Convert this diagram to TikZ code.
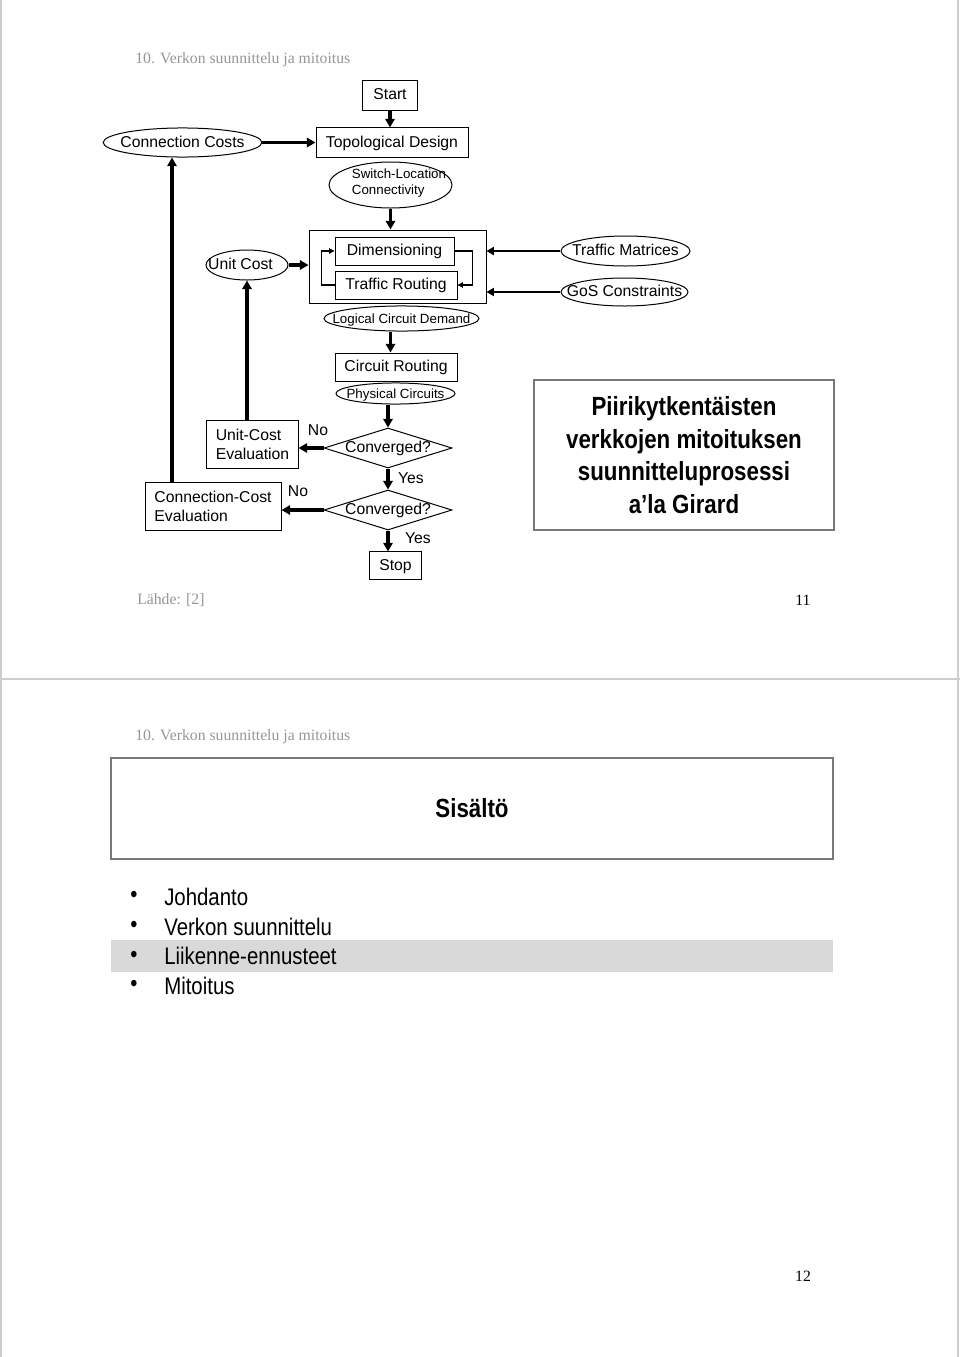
\documentclass[tikz,border=0pt]{standalone}
\usepackage{fontspec}
\setmainfont{Liberation Sans}
\newfontfamily\headfont{Liberation Serif}
\newfontfamily\narrowfont[FakeStretch=0.85]{Liberation Sans}
\usetikzlibrary{shapes.geometric, arrows.meta, positioning}
\definecolor{pagegray}{RGB}{205,205,205}
\definecolor{headgray}{RGB}{150,150,150}
\definecolor{framegray}{RGB}{120,120,120}
\definecolor{bandgray}{RGB}{217,217,217}

\begin{document}
\begin{tikzpicture}[
    x=0.75pt, y=-0.75pt,
    every node/.style={font=\fontsize{11.8}{14.25}\selectfont},
    box/.style={rectangle, draw=black, line width=0.75pt, inner sep=0pt, text height=0.9em, text depth=0.18em},
    twoline/.style={align=left, text height=, text depth=},
    oval/.style={ellipse, draw=black, line width=0.75pt, inner sep=-40pt, text height=0.9em, text depth=0.18em},
    decision/.style={diamond, draw=black, line width=0.75pt, inner sep=-40pt, text height=0.9em, text depth=0.18em},
    small/.style={font=\fontsize{10}{12}\selectfont},
    titlebox/.style={rectangle, draw=framegray, line width=1.5pt, inner sep=0pt, align=center},
    header/.style={font=\headfont\fontsize{11.8}{14}\selectfont, text=headgray, inner sep=0pt},
    bullet/.style={font=\narrowfont\fontsize{18}{22}\selectfont, inner sep=0pt, anchor=west},
    arrow/.style={line width=2.3pt, -{Triangle[length=6.5pt, width=7pt]}},
    sidearrow/.style={line width=1.6pt, -{Triangle[length=5.5pt, width=6pt]}},
    looparrow/.style={line width=0.8pt, -{Triangle[length=4pt, width=4pt]}}
]
\useasboundingbox (0,0) rectangle (960,1357);

% page frames
\draw[pagegray, line width=1pt] (1,0) -- (1,678) (958,0) -- (958,678);
\draw[pagegray, line width=1pt] (1,680) -- (1,1357) (958,680) -- (958,1357);
\draw[pagegray, line width=1.5pt] (0,679) -- (960,679);

%% page 11
\node[header, anchor=west] (head1) at (135,60) {10. Verkon suunnittelu ja mitoitus};

\node[box, minimum width=41.3pt, minimum height=22.5pt] (start) at (390,95) {Start};
\node[box, minimum width=114pt, minimum height=21.8pt] (topo) at (392,142.5) {Topological Design};
\node[oval, minimum width=119pt, minimum height=21.8pt] (conncost) at (182.5,142.5) {Connection Costs};

\node[oval, minimum width=92.3pt, minimum height=34.5pt] (swloc) at (390.5,185) {};
\node[small, align=left, inner sep=0pt] (swloctext) at (399,183) {Switch-Location\\Connectivity};

\node[box, minimum width=132.75pt, minimum height=54.75pt] (dimblock) at (397.5,266.5) {};
\node[box, minimum width=89.25pt, minimum height=21pt] (dim) at (394.5,251) {Dimensioning};
\node[box, minimum width=91.5pt, minimum height=21pt] (troute) at (396,285) {Traffic Routing};

\node[oval, minimum width=61.5pt, minimum height=22.5pt] (unitcost) at (247,265) {};
\node[inner sep=0pt, text height=0.9em, text depth=0.18em] (unitcosttext) at (240.5,265) {Unit Cost};

\node[oval, minimum width=96.8pt, minimum height=22.5pt] (trafmat) at (625.5,251) {Traffic Matrices};
\node[oval, minimum width=95.3pt, minimum height=21pt] (gos) at (624.5,292) {GoS Constraints};

\node[oval, small, minimum width=116.3pt, minimum height=18.8pt] (logical) at (401.5,318.5) {Logical Circuit Demand};
\node[box, minimum width=91.5pt, minimum height=21pt] (croute) at (396,367) {Circuit Routing};
\node[oval, small, minimum width=89.3pt, minimum height=15.8pt] (physical) at (395.5,393.5) {Physical Circuits};

\node[decision, minimum width=96pt, minimum height=30pt] (conv1) at (388,448) {Converged?};
\node[decision, minimum width=96pt, minimum height=30pt] (conv2) at (388,510) {Converged?};
\node[box, minimum width=38.3pt, minimum height=20.3pt] (stop) at (395.5,565.5) {Stop};

\node[box, twoline, minimum width=68.3pt, minimum height=35.3pt] (unitev) at (252.5,444.5) {Unit-Cost\\Evaluation};
\node[box, twoline, minimum width=102pt, minimum height=35.3pt] (connev) at (213,506.5) {Connection-Cost\\Evaluation};

\node (no1) at (318,430) {No};
\node (yes1) at (411,478) {Yes};
\node (no2) at (298,491) {No};
\node (yes2) at (418,538) {Yes};

\node[titlebox, minimum width=225pt, minimum height=112.5pt,
      font=\narrowfont\bfseries\fontsize{19.7}{24.4}\selectfont] (girard) at (684,455)
      {Piirikytkentäisten\\verkkojen mitoituksen\\suunnitteluprosessi\\a’la Girard};

\node[header, anchor=west] (source) at (137,600) {Lähde: [2]};
\node[header, text=black] (page11) at (803,600) {11};

% connectors
\draw[arrow] (start) -- (start |- topo.north);
\draw[arrow] (conncost) -- (topo);
\draw[arrow] (swloc) -- (swloc |- dimblock.north);
\draw[arrow] (unitcost.east) -- (unitcost.east -| dimblock.west);
\draw[sidearrow] (trafmat.west) -- (trafmat.west -| dimblock.east);
\draw[sidearrow] (gos.west) -- (gos.west -| dimblock.east);
\draw[looparrow] (dim.east) -- ++(18,0) |- (troute.east);
\draw[looparrow] (troute.west) -- ++(-13,0) |- (dim.west);
\draw[arrow] (logical.south -| swloc) -- (croute.north -| swloc);
\draw[arrow] (physical.south -| conv1) -- (conv1.north);
\draw[arrow] (conv1.west) -- (conv1.west -| unitev.east);
\draw[arrow] (unitev.north -| unitcost) -- (unitcost.south);
\draw[arrow] (conv1) -- (conv2);
\draw[arrow] (conv2.west) -- (conv2.west -| connev.east);
\draw[arrow] ([xshift=-30.75pt]connev.north) -- ([xshift=-30.75pt]connev.north |- conncost.south);
\draw[arrow] (conv2.south) -- (conv2.south |- stop.north);

%% page 12
\node[header, anchor=west] (head2) at (135,737) {10. Verkon suunnittelu ja mitoitus};
\node[titlebox, minimum width=541.5pt, minimum height=75.75pt,
      font=\narrowfont\bfseries\fontsize{19.7}{24.4}\selectfont] (contents) at (472,808.5) {Sisältö};

\fill[bandgray] (111,940) rectangle (833,972);
\foreach \name/\item [count=\i] in {intro/Johdanto, design/Verkon suunnittelu, forecast/Liikenne-ennusteet, sizing/Mitoitus} {
  \node[bullet] (dot\name) at (130,867.3+29.7*\i) {•};
  \node[bullet] (\name) at (164,867.3+29.7*\i) {\item};
}

\node[header, text=black] (page12) at (803,1276) {12};
\end{tikzpicture}
\end{document}
